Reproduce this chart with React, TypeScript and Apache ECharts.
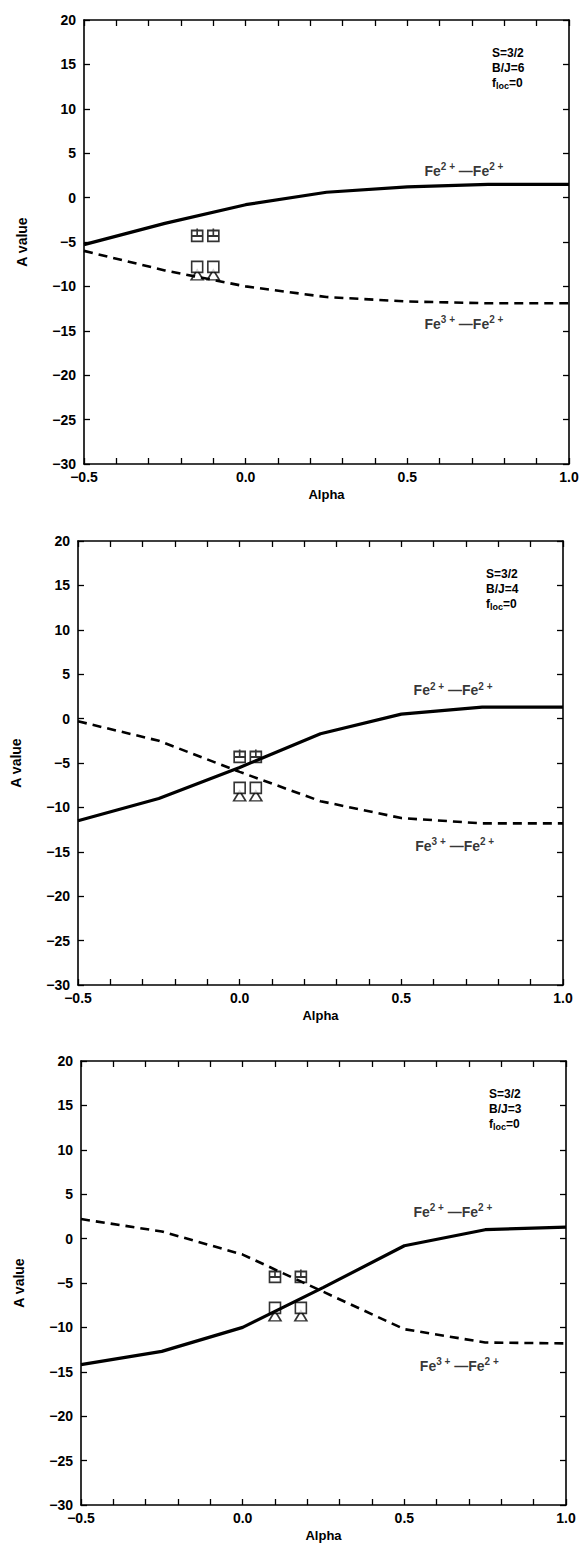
import React, { useEffect, useRef } from "react";
import * as echarts from "echarts";

const alphaGrid = [-0.5, -0.25, 0, 0.25, 0.5, 0.75, 1.0];

// B/J = 6
const fe22_bj6 = [-5.3, -2.9, -0.8, 0.6, 1.2, 1.5, 1.5];
const fe32_bj6 = [-6.0, -8.2, -10.0, -11.2, -11.7, -11.9, -11.9];
const markAlpha_bj6 = [-0.15, -0.1];

// B/J = 4
const fe22_bj4 = [-11.5, -9.0, -5.5, -1.7, 0.5, 1.3, 1.3];
const fe32_bj4 = [-0.3, -2.5, -6.0, -9.3, -11.2, -11.8, -11.8];
const markAlpha_bj4 = [0.0, 0.05];

// B/J = 3
const fe22_bj3 = [-14.2, -12.7, -10.0, -5.5, -0.8, 1.0, 1.3];
const fe32_bj3 = [2.2, 0.8, -1.8, -6.0, -10.2, -11.7, -11.8];
const markAlpha_bj3 = [0.1, 0.18];

// measured points (same for all panels)
const markUpper = [-4.2, -4.2];
const markSquare = [-7.8, -7.8];
const markTriangle = [-8.7, -8.7];

const bjValues = ["6", "4", "3"];
const xTicks = [-0.5, 0.0, 0.5, 1.0];
const yTicks = [-30, -25, -20, -15, -10, -5, 0, 5, 10, 15, 20];

// label anchor positions (data coords)
const upperLabel = [[0.675, 3.0], [0.66, 3.2], [0.65, 3.0]];
const lowerLabel = [[0.675, -14.2], [0.665, -14.3], [0.67, -14.3]];

const FONT = '"Liberation Sans", Arial, sans-serif';

const panels = [
  { solid: fe22_bj6, dashed: fe32_bj6, marks: markAlpha_bj6 },
  { solid: fe22_bj4, dashed: fe32_bj4, marks: markAlpha_bj4 },
  { solid: fe22_bj3, dashed: fe32_bj3, marks: markAlpha_bj3 },
];

const grids = [
  { left: 84, top: 20, width: 485, height: 444 },
  { left: 78, top: 541, width: 485, height: 444 },
  { left: 81, top: 1061, width: 485, height: 444 },
];

const zip = (xs: number[], ys: number[]) => xs.map((x, i) => [x, ys[i]]);
const fmt = (v: number) => {
  const s = Math.abs(v) < 1e-9 ? "0" : String(v);
  return s.replace("-", "\u2212");
};

const lineC = "#000";

export default function App() {
  const ref = useRef<HTMLDivElement>(null);
  useEffect(() => {
    if (!ref.current) return;
    const chart = echarts.init(ref.current, undefined, { renderer: "svg" });

    const xAxes: any[] = [];
    const yAxes: any[] = [];
    const series: any[] = [];
    const graphic: any[] = [];

    grids.forEach((g, i) => {
      const tickCommon = {
        axisLine: { show: true, onZero: false, lineStyle: { color: lineC, width: 1.6 } },
        axisTick: { show: true, inside: true, length: 6, lineStyle: { color: lineC, width: 1.3 } },
        splitLine: { show: false },
      };
      xAxes.push({
        gridIndex: i, type: "value", position: "bottom", min: -0.5, max: 1.0, interval: 0.5,
        ...tickCommon,
        minorTick: { show: true, splitNumber: 5, length: 6, lineStyle: { color: lineC, width: 1.3 } },
        axisLabel: {
          show: true, margin: 6, color: "#000", fontSize: 14, fontWeight: "bold", fontFamily: FONT,
          formatter: (v: number) => (xTicks.some((t) => Math.abs(t - v) < 1e-6) ? fmt(Number(v.toFixed(1))).replace(/^(−?\d)$/, "$1.0") : ""),
        },
        name: "Alpha", nameLocation: "middle", nameGap: 24,
        nameTextStyle: { color: "#000", fontSize: 13, fontWeight: "bold", fontFamily: FONT },
      });
      xAxes.push({
        gridIndex: i, type: "value", position: "top", min: -0.5, max: 1.0, interval: 0.5,
        ...tickCommon,
        minorTick: { show: true, splitNumber: 5, length: 6, lineStyle: { color: lineC, width: 1.3 } },
        axisLabel: { show: false },
      });
      yAxes.push({
        gridIndex: i, type: "value", position: "left", min: -30, max: 20, interval: 5,
        ...tickCommon,
        axisLabel: {
          show: true, margin: 8, color: "#000", fontSize: 14, fontWeight: "bold", fontFamily: FONT,
          formatter: (v: number) => (yTicks.includes(v) ? fmt(v) : ""),
        },
        name: "A value", nameLocation: "middle", nameGap: 55,
        nameTextStyle: { color: "#000", fontSize: 14, fontWeight: "bold", fontFamily: FONT },
      });
      yAxes.push({
        gridIndex: i, type: "value", position: "right", min: -30, max: 20, interval: 5,
        ...tickCommon,
        axisLabel: { show: false },
      });

      const p = panels[i];
      const ax = { xAxisIndex: 2 * i, yAxisIndex: 2 * i };
      series.push({
        type: "line", ...ax, data: zip(alphaGrid, p.solid), symbol: "none",
        lineStyle: { color: lineC, width: 3.2 }, silent: true,
      });
      series.push({
        type: "line", ...ax, data: zip(alphaGrid, p.dashed), symbol: "none",
        lineStyle: { color: lineC, width: 2.6, type: [9, 6] }, silent: true,
      });
      series.push({
        type: "scatter", ...ax, data: zip(p.marks, markUpper),
        symbol: "path://M0,2H10V12H0ZM0,7H10M5,0V7", symbolSize: [11, 13],
        itemStyle: { color: "none", borderColor: lineC, borderWidth: 1.8 }, silent: true,
      });
      series.push({
        type: "scatter", ...ax, data: zip(p.marks, markTriangle),
        symbol: "path://M5,0L10,9H0Z", symbolSize: [12, 10],
        itemStyle: { color: "none", borderColor: lineC, borderWidth: 1.6 }, silent: true,
      });
      series.push({
        type: "scatter", ...ax, data: zip(p.marks, markSquare),
        symbol: "rect", symbolSize: 11,
        itemStyle: { color: "#fff", borderColor: lineC, borderWidth: 1.6 }, silent: true,
      });
      const rich = {
        n: { fontSize: 14, fontWeight: "bold", fontFamily: FONT, color: "#000", lineHeight: 18 },
        s: { fontSize: 10, fontWeight: "bold", fontFamily: FONT, color: "#000", verticalAlign: "top", lineHeight: 11 },
      };
      series.push({
        type: "scatter", ...ax, data: [upperLabel[i]], symbolSize: 0, silent: true,
        label: { show: true, position: "inside", formatter: "{n|Fe}{s|2 +}{n| —Fe}{s|2 +}", rich },
      });
      series.push({
        type: "scatter", ...ax, data: [lowerLabel[i]], symbolSize: 0, silent: true,
        label: { show: true, position: "inside", formatter: "{n|Fe}{s|3 +}{n| —Fe}{s|2 +}", rich },
      });

      const ax0 = g.left + g.width - 77;
      const ay0 = g.top + 33;
      const ts = { fill: "#000", fontSize: 12, fontWeight: "bold", fontFamily: FONT, textVerticalAlign: "middle" };
      graphic.push({ type: "text", x: ax0, y: ay0, style: { ...ts, text: "S=3/2" } });
      graphic.push({ type: "text", x: ax0, y: ay0 + 15, style: { ...ts, text: "B/J=" + bjValues[i] } });
      graphic.push({
        type: "text", x: ax0, y: ay0 + 30,
        style: {
          ...ts, text: "{a|f}{b|loc}{a|=0}",
          rich: {
            a: { fontSize: 12, fontWeight: "bold", fontFamily: FONT, fill: "#000", lineHeight: 14 },
            b: { fontSize: 9, fontWeight: "bold", fontFamily: FONT, fill: "#000", verticalAlign: "bottom", lineHeight: 10 },
          },
        },
      });
    });

    chart.setOption({
      animation: false,
      backgroundColor: "#fff",
      grid: grids,
      xAxis: xAxes,
      yAxis: yAxes,
      series,
      graphic,
    });
    return () => chart.dispose();
  }, []);
  return <div ref={ref} style={{ position: "absolute", left: 0, top: 0, width: 583, height: 1546 }} />;
}
